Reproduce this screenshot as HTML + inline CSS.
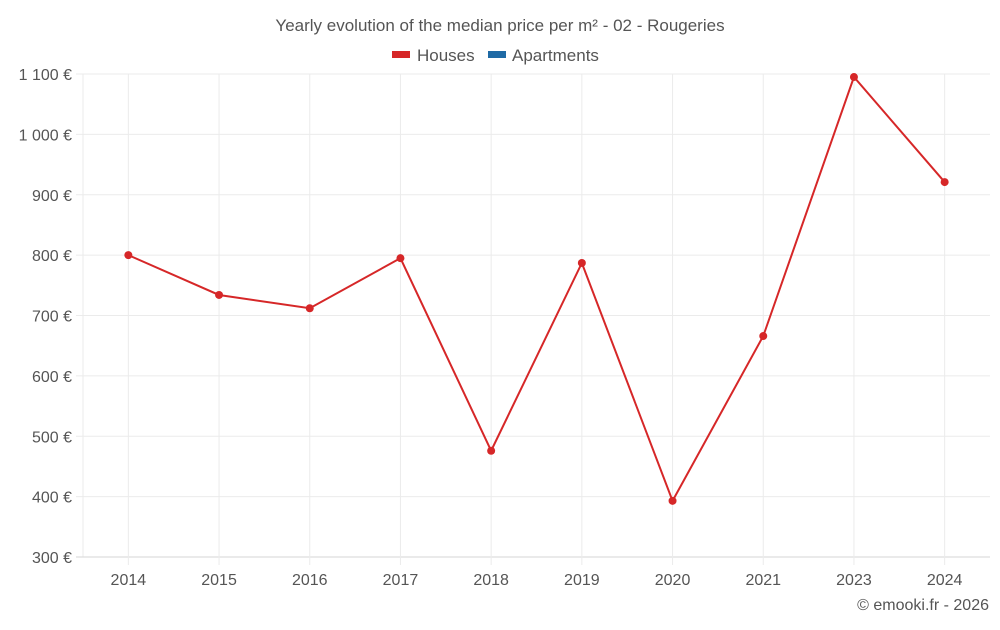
<!DOCTYPE html>
<html><head><meta charset="utf-8"><style>
body{margin:0;background:#fff;font-family:"Liberation Sans",sans-serif;}
svg text{font-family:"Liberation Sans",sans-serif;fill:#555;}
</style></head><body>
<svg id="chart" width="1000" height="625">
<text x="500" y="31" text-anchor="middle" font-size="17">Yearly evolution of the median price per m² - 02 - Rougeries</text>
<g>
<g><rect x="392" y="51" width="18" height="7" fill="#d62728"/><text x="417" y="61" font-size="17">Houses</text></g>
<g><rect x="488" y="51" width="18" height="7" fill="#1f6aa5"/><text x="512" y="61" font-size="17">Apartments</text></g>
</g>
<g id="grid"></g><g id="axes"></g><g id="marks"></g>
<text x="989" y="610" text-anchor="end" font-size="16">© emooki.fr - 2026</text>
</svg>
<script>
const categories=["2014","2015","2016","2017","2018","2019","2020","2021","2023","2024"];
const houses=[800,734,712,795,476,787,393,666,1095,921];
const yTicks=[300,400,500,600,700,800,900,1000,1100];
const yTickLabels=["300 €","400 €","500 €","600 €","700 €","800 €","900 €","1 000 €","1 100 €"];
const NS="http://www.w3.org/2000/svg";
const L=83,R=990,T=74,B=557,yMin=300,yMax=1100;
const bw=(R-L)/categories.length;
const x=i=>L+bw*(i+0.5);
const y=v=>B-(v-yMin)/(yMax-yMin)*(B-T);
function mk(tag,attrs,parent){const e=document.createElementNS(NS,tag);for(const k in attrs)e.setAttribute(k,attrs[k]);document.getElementById(parent).appendChild(e);return e;}
const la=mk('line',{x1:L,x2:L,y1:T,y2:B,stroke:'#ebebeb'},'grid');


yTicks.forEach((t,i)=>{
 const g=mk('line',{x1:L-7,x2:R,y1:y(t),y2:y(t),stroke:i==0?'#d6d6d6':'#ebebeb'},'grid');
 
 
 const tx=mk('text',{x:72,y:y(t)+6,'text-anchor':'end','font-size':16},'axes');
 tx.textContent=yTickLabels[i];
 
 
});
categories.forEach((c,i)=>{
 const g=mk('line',{x1:x(i),x2:x(i),y1:T,y2:B+8,stroke:'#ebebeb'},'grid');
 
 
 const tx=mk('text',{x:x(i),y:585,'text-anchor':'middle','font-size':16},'axes');
 tx.textContent=c;
 
 
});
const ln=mk('polyline',{points:houses.map((v,i)=>x(i)+','+y(v)).join(' '),fill:'none',stroke:'#d62728','stroke-width':2},'marks');


houses.forEach((v,i)=>{
 const p=mk('circle',{cx:x(i),cy:y(v),r:4,fill:'#d62728'},'marks');
 
 
});
</script>
</body></html>
